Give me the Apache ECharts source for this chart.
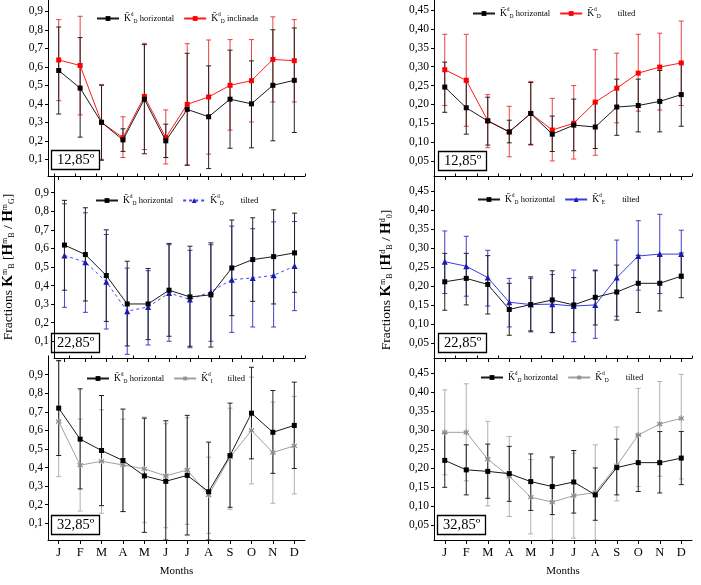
<!DOCTYPE html>
<html lang="en">
<head>
	<meta charset="UTF-8">
	<title>Fractions K</title>
	<style>
		html, body { margin: 0; padding: 0; background: #fff; }
		#container { width: 701px; height: 585px; }
	</style>
</head>
<body>
	<div id="container"></div>
	<script src="https://cdn.jsdelivr.net/npm/echarts@6/dist/echarts.min.js"></script>
	<script>
		// ---- data ----
		var months = ['J', 'F', 'M', 'A', 'M', 'J', 'J', 'A', 'S', 'O', 'N', 'D'];
		var leftTicks = [0.1, 0.2, 0.3, 0.4, 0.5, 0.6, 0.7, 0.8, 0.9];
		var rightTicks = [0.05, 0.10, 0.15, 0.20, 0.25, 0.30, 0.35, 0.40, 0.45];
		var latitudes = ['12,85º', '22,85º', '32,85º', '12,85º', '22,85º', '32,85º'];

		// left column, 12,85º
		var aHor = [0.58, 0.485, 0.30, 0.205, 0.425, 0.20, 0.37, 0.33, 0.425, 0.40, 0.50, 0.527];
		var aHorLo = [0.345, 0.22, 0.095, 0.143, 0.13, 0.11, 0.068, 0.05, 0.16, 0.162, 0.20, 0.245];
		var aHorHi = [0.815, 0.758, 0.50, 0.265, 0.72, 0.29, 0.673, 0.605, 0.69, 0.632, 0.80, 0.81];
		var aTilt = [0.637, 0.607, 0.30, 0.217, 0.44, 0.217, 0.397, 0.437, 0.50, 0.525, 0.64, 0.633];
		var aTiltLo = [0.417, 0.34, 0.10, 0.11, 0.153, 0.075, 0.07, 0.128, 0.258, 0.302, 0.41, 0.41];
		var aTiltHi = [0.855, 0.873, 0.505, 0.33, 0.727, 0.367, 0.725, 0.745, 0.747, 0.747, 0.87, 0.855];

		// left column, 22,85º
		var bHor = [0.618, 0.567, 0.454, 0.301, 0.301, 0.375, 0.339, 0.35, 0.495, 0.54, 0.556, 0.576];
		var bHorLo = [0.375, 0.317, 0.207, 0.075, 0.109, 0.127, 0.073, 0.069, 0.238, 0.315, 0.301, 0.364];
		var bHorHi = [0.859, 0.819, 0.70, 0.531, 0.492, 0.627, 0.612, 0.63, 0.753, 0.765, 0.808, 0.79];
		var bTilt = [0.562, 0.526, 0.42, 0.262, 0.285, 0.36, 0.325, 0.367, 0.432, 0.441, 0.455, 0.505];
		var bTiltLo = [0.283, 0.256, 0.166, 0.03, 0.08, 0.10, 0.065, 0.10, 0.148, 0.177, 0.177, 0.265];
		var bTiltHi = [0.84, 0.792, 0.675, 0.494, 0.48, 0.62, 0.59, 0.62, 0.72, 0.706, 0.743, 0.745];

		// left column, 32,85º
		var cHor = [0.72, 0.553, 0.492, 0.438, 0.355, 0.326, 0.358, 0.27, 0.465, 0.693, 0.59, 0.627];
		var cHorLo = [0.465, 0.285, 0.195, 0.163, 0.051, 0.01, 0.037, 0.01, 0.186, 0.447, 0.369, 0.395];
		var cHorHi = [0.977, 0.824, 0.788, 0.715, 0.666, 0.652, 0.681, 0.537, 0.747, 0.94, 0.815, 0.86];
		var cTilt = [0.648, 0.413, 0.434, 0.414, 0.393, 0.355, 0.387, 0.252, 0.456, 0.60, 0.481, 0.517];
		var cTiltLo = [0.351, 0.166, 0.154, 0.163, 0.103, 0.076, 0.094, 0.046, 0.175, 0.312, 0.208, 0.258];
		var cTiltHi = [0.972, 0.661, 0.711, 0.661, 0.672, 0.636, 0.668, 0.456, 0.72, 0.887, 0.753, 0.783];

		// right column, 12,85º
		var dHor = [0.246, 0.191, 0.156, 0.127, 0.176, 0.121, 0.145, 0.14, 0.193, 0.197, 0.208, 0.226];
		var dHorLo = [0.179, 0.121, 0.092, 0.098, 0.094, 0.075, 0.077, 0.083, 0.118, 0.127, 0.127, 0.142];
		var dHorHi = [0.312, 0.26, 0.219, 0.158, 0.258, 0.169, 0.214, 0.204, 0.267, 0.267, 0.29, 0.31];
		var dTilt = [0.292, 0.264, 0.157, 0.127, 0.176, 0.132, 0.15, 0.206, 0.243, 0.283, 0.299, 0.31];
		var dTiltLo = [0.197, 0.142, 0.085, 0.061, 0.092, 0.05, 0.055, 0.065, 0.151, 0.182, 0.185, 0.197];
		var dTiltHi = [0.386, 0.386, 0.226, 0.195, 0.261, 0.216, 0.25, 0.345, 0.336, 0.386, 0.389, 0.421];

		// right column, 22,85º
		var eHor = [0.211, 0.22, 0.204, 0.138, 0.151, 0.163, 0.15, 0.17, 0.184, 0.207, 0.207, 0.226];
		var eHorLo = [0.136, 0.15, 0.126, 0.07, 0.079, 0.077, 0.077, 0.097, 0.11, 0.13, 0.134, 0.169];
		var eHorHi = [0.286, 0.286, 0.28, 0.207, 0.224, 0.24, 0.222, 0.24, 0.255, 0.281, 0.281, 0.287];
		var eTilt = [0.264, 0.252, 0.222, 0.157, 0.151, 0.152, 0.147, 0.15, 0.222, 0.279, 0.284, 0.284];
		var eTiltLo = [0.18, 0.173, 0.147, 0.092, 0.082, 0.077, 0.053, 0.062, 0.12, 0.189, 0.18, 0.22];
		var eTiltHi = [0.345, 0.331, 0.294, 0.22, 0.22, 0.23, 0.242, 0.242, 0.321, 0.372, 0.389, 0.347];

		// right column, 32,85º
		var fHor = [0.22, 0.195, 0.191, 0.185, 0.164, 0.151, 0.163, 0.129, 0.201, 0.214, 0.214, 0.226];
		var fHorLo = [0.149, 0.129, 0.12, 0.112, 0.088, 0.077, 0.081, 0.062, 0.129, 0.138, 0.134, 0.156];
		var fHorHi = [0.292, 0.261, 0.263, 0.257, 0.237, 0.229, 0.246, 0.2, 0.276, 0.287, 0.296, 0.296];
		var fTilt = [0.294, 0.294, 0.223, 0.178, 0.123, 0.11, 0.127, 0.135, 0.206, 0.287, 0.316, 0.331];
		var fTiltLo = [0.182, 0.166, 0.1, 0.072, 0.026, 0.01, 0.015, 0.01, 0.113, 0.151, 0.178, 0.171];
		var fTiltHi = [0.406, 0.422, 0.323, 0.283, 0.222, 0.226, 0.239, 0.261, 0.308, 0.41, 0.428, 0.447];

		// ---- layout ----
		var FONT = 'Liberation Serif';
		// small asterisk, drawn as a filled outline so it stays crisp
		var ASTER = 'path://M4,0H6V3.6L8.6,1L10,2.4L7.4,5L10,7.6L8.6,9L6,6.4V10H4V6.4L1.4,9L0,7.6L2.6,5L0,2.4L1.4,1L4,3.6Z';

		var looks = {
			red:  { line: '#ff1a1a', mark: '#ff0000', bar: '#e84040', symbol: 'rect', size: 5, dash: 'solid' },
			blueD: { line: '#4646ff', mark: '#1a1ab0', bar: '#4040c8', symbol: 'triangle', size: 6, dash: [3, 3] },
			blue: { line: '#3a3ae0', mark: '#1a1ab0', bar: '#4040c8', symbol: 'triangle', size: 6, dash: 'solid' },
			gray: { line: '#a0a0a0', mark: '#8c8c8c', bar: '#b0b0b0', symbol: ASTER, size: 6, dash: 'solid' }
		};

		var panels = [
			{ grid: { left: 48, top: 0, width: 257, height: 176 }, max: 0.961, ticks: leftTicks, dec: 1,
				h: [aHor, aHorLo, aHorHi], t: [aTilt, aTiltLo, aTiltHi], look: 'red', tname: ' inclinada', sub: 'D',
				legend: { left: 96, top: 12 }, box: { left: 51, top: 150 } },
			{ grid: { left: 48, top: 176, width: 257, height: 182 }, max: 0.99, ticks: leftTicks, dec: 1,
				h: [bHor, bHorLo, bHorHi], t: [bTilt, bTiltLo, bTiltHi], look: 'blueD', tname: '        tilted', sub: 'D',
				legend: { left: 95, top: 194 }, box: { left: 51, top: 333 }, yname: 'left' },
			{ grid: { left: 48, top: 358, width: 257, height: 182 }, max: 0.99, ticks: leftTicks, dec: 1,
				h: [cHor, cHorLo, cHorHi], t: [cTilt, cTiltLo, cTiltHi], look: 'gray', tname: '       tilted', sub: 'I',
				legend: { left: 86, top: 372 }, box: { left: 51, top: 515 }, bottom: true },
			{ grid: { left: 434, top: 0, width: 258, height: 176 }, max: 0.477, ticks: rightTicks, dec: 2,
				h: [dHor, dHorLo, dHorHi], t: [dTilt, dTiltLo, dTiltHi], look: 'red', tname: '        tilted', sub: 'D',
				legend: { left: 472, top: 7 }, box: { left: 438, top: 151 } },
			{ grid: { left: 434, top: 176, width: 258, height: 182 }, max: 0.49, ticks: rightTicks, dec: 2,
				h: [eHor, eHorLo, eHorHi], t: [eTilt, eTiltLo, eTiltHi], look: 'blue', tname: '        tilted', sub: 'E',
				legend: { left: 477, top: 193 }, box: { left: 438, top: 333 }, yname: 'right' },
			{ grid: { left: 434, top: 358, width: 258, height: 182 }, max: 0.49, ticks: rightTicks, dec: 2,
				h: [fHor, fHorLo, fHorHi], t: [fTilt, fTiltLo, fTiltHi], look: 'gray', tname: '        tilted', sub: 'D',
				legend: { left: 480, top: 371 }, box: { left: 437, top: 515 }, bottom: true }
		];

		var yNames = {
			left: '{f|Fractions }{k|K}{sup|m}{sub|B}{f| [}{k|H}{sup|m}{sub|B}{f| / }{k|H}{sup|m}{sub|G}{f|]}',
			right: '{f|Fractions }{k|K}{sup|m}{sub|B}{f| [}{k|H}{sup|d}{sub|B}{f| / }{k|H}{sup|d}{sub|0}{f|]}'
		};

		var legendRich = {
			k: { fontFamily: FONT, fontSize: 9.5, lineHeight: 13, color: '#000' },
			sup: { fontFamily: FONT, fontSize: 5.5, lineHeight: 6, verticalAlign: 'top', color: '#000' },
			sub: { fontFamily: FONT, fontSize: 5.5, lineHeight: 6, verticalAlign: 'bottom', color: '#000' },
			t: { fontFamily: FONT, fontSize: 8.5, lineHeight: 13, color: '#000' }
		};

		function errorBars(color) {
			return function (params, api) {
				var x = api.value(0);
				var lo = api.coord([x, api.value(1)]);
				var hi = api.coord([x, api.value(2)]);
				var w = 2.5;
				var st = { stroke: color, lineWidth: 1 };
				return {
					type: 'group',
					children: [
						{ type: 'line', shape: { x1: lo[0], y1: lo[1], x2: hi[0], y2: hi[1] }, style: st },
						{ type: 'line', shape: { x1: lo[0] - w, y1: lo[1], x2: lo[0] + w, y2: lo[1] }, style: st },
						{ type: 'line', shape: { x1: hi[0] - w, y1: hi[1], x2: hi[0] + w, y2: hi[1] }, style: st }
					]
				};
			};
		}

		function barData(lo, hi) {
			var out = [];
			for (var i = 0; i < lo.length; i++) out.push([i, lo[i], hi[i]]);
			return out;
		}

		var option = {
			animation: false,
			backgroundColor: '#fff',
			textStyle: { fontFamily: FONT },
			grid: [], xAxis: [], yAxis: [], legend: [], title: [], series: []
		};

		panels.forEach(function (p, k) {
			var lk = looks[p.look];
			var hName = 'h' + k, tName = 't' + k;
			option.grid.push(p.grid);

			// main x axis: month ticks and labels
			option.xAxis.push({
				type: 'category', gridIndex: k, data: months, boundaryGap: true,
				axisLine: { lineStyle: { color: '#000', width: 1 } },
				axisTick: { show: true, alignWithLabel: true, interval: 0, length: 4, lineStyle: { color: '#000' } },
				axisLabel: { show: !!p.bottom, interval: 0, margin: 6, color: '#000', fontFamily: FONT, fontSize: 12.5 },
				name: p.bottom ? 'Months' : '', nameLocation: 'middle', nameGap: 26,
				nameTextStyle: { color: '#000', fontFamily: FONT, fontSize: 11 }
			});
			// minor x ticks between months
			option.xAxis.push({
				type: 'category', gridIndex: k, data: months, boundaryGap: true,
				axisLine: { show: false },
				axisTick: { show: true, alignWithLabel: false, interval: 0, length: 2.5, lineStyle: { color: '#000' } },
				axisLabel: { show: false }
			});

			option.yAxis.push({
				type: 'value', gridIndex: k, min: 0.01, max: p.max,
				splitLine: { show: false },
				axisLine: { show: true, lineStyle: { color: '#000', width: 1 } },
				axisTick: { show: true, customValues: p.ticks, length: 3, lineStyle: { color: '#000' } },
				axisLabel: {
					customValues: p.ticks, margin: 5, color: '#000', fontFamily: FONT, fontSize: 11.5,
					formatter: function (v) { return v.toFixed(p.dec).replace('.', ','); }
				},
				name: p.yname ? yNames[p.yname] : '', nameLocation: 'middle',
				nameGap: p.yname === 'left' ? 38 : 40,
				nameTextStyle: {
					color: '#000',
					padding: p.yname === 'right' ? [0, 26, 0, 0] : [0, 0, 0, 0],
					rich: {
						f: { fontFamily: FONT, fontSize: 13.5, color: '#000' },
						k: { fontFamily: FONT, fontSize: 15, fontWeight: 'bold', color: '#000' },
						sup: { fontFamily: FONT, fontSize: 8, verticalAlign: 'top', lineHeight: 8, color: '#000' },
						sub: { fontFamily: FONT, fontSize: 8, verticalAlign: 'bottom', lineHeight: 8, color: '#000' }
					}
				}
			});

			option.legend.push({
				data: [hName, tName], left: p.legend.left, top: p.legend.top,
				itemWidth: 22, itemHeight: 6, itemGap: 9, selectedMode: false, padding: 0,
				textStyle: { rich: legendRich },
				formatter: function (name) {
					var tail = name === hName ? ' horizontal' : p.tname;
					var s = name === hName ? 'D' : p.sub;
					return '{k|K\u0304}{sup|d}{sub|' + s + '}{t|' + tail + '}';
				}
			});

			option.title.push({
				text: latitudes[k],
				left: p.box.left, top: p.box.top,
				borderColor: '#000', borderWidth: 1.3, padding: [2, 6, 1, 6],
				textStyle: { fontFamily: FONT, fontSize: 14.5, fontWeight: 'normal', color: '#000', lineHeight: 17 }
			});

			// error bars
			option.series.push({
				type: 'custom', xAxisIndex: 2 * k, yAxisIndex: k, clip: true, silent: true,
				renderItem: errorBars(lk.bar), data: barData(p.t[1], p.t[2]), z: 2
			});
			option.series.push({
				type: 'custom', xAxisIndex: 2 * k, yAxisIndex: k, clip: true, silent: true,
				renderItem: errorBars('#222'), data: barData(p.h[1], p.h[2]), z: 3
			});

			// tilted / inclinada line
			option.series.push({
				name: tName, type: 'line', xAxisIndex: 2 * k, yAxisIndex: k, data: p.t[0],
				symbol: lk.symbol, symbolSize: lk.size, showAllSymbol: true, z: 4,
				lineStyle: { color: lk.line, width: 1, type: lk.dash },
				itemStyle: { color: lk.mark, borderWidth: 0 },
				emphasis: { disabled: true }
			});
			// horizontal line
			option.series.push({
				name: hName, type: 'line', xAxisIndex: 2 * k, yAxisIndex: k, data: p.h[0],
				symbol: 'rect', symbolSize: 5, showAllSymbol: true, z: 5,
				lineStyle: { color: '#1a1a1a', width: 1 },
				itemStyle: { color: '#000', borderWidth: 0 },
				emphasis: { disabled: true }
			});
		});

		var myChart = echarts.init(document.getElementById('container'), null, { renderer: 'canvas' });
		myChart.setOption(option);
	</script>
</body>
</html>
